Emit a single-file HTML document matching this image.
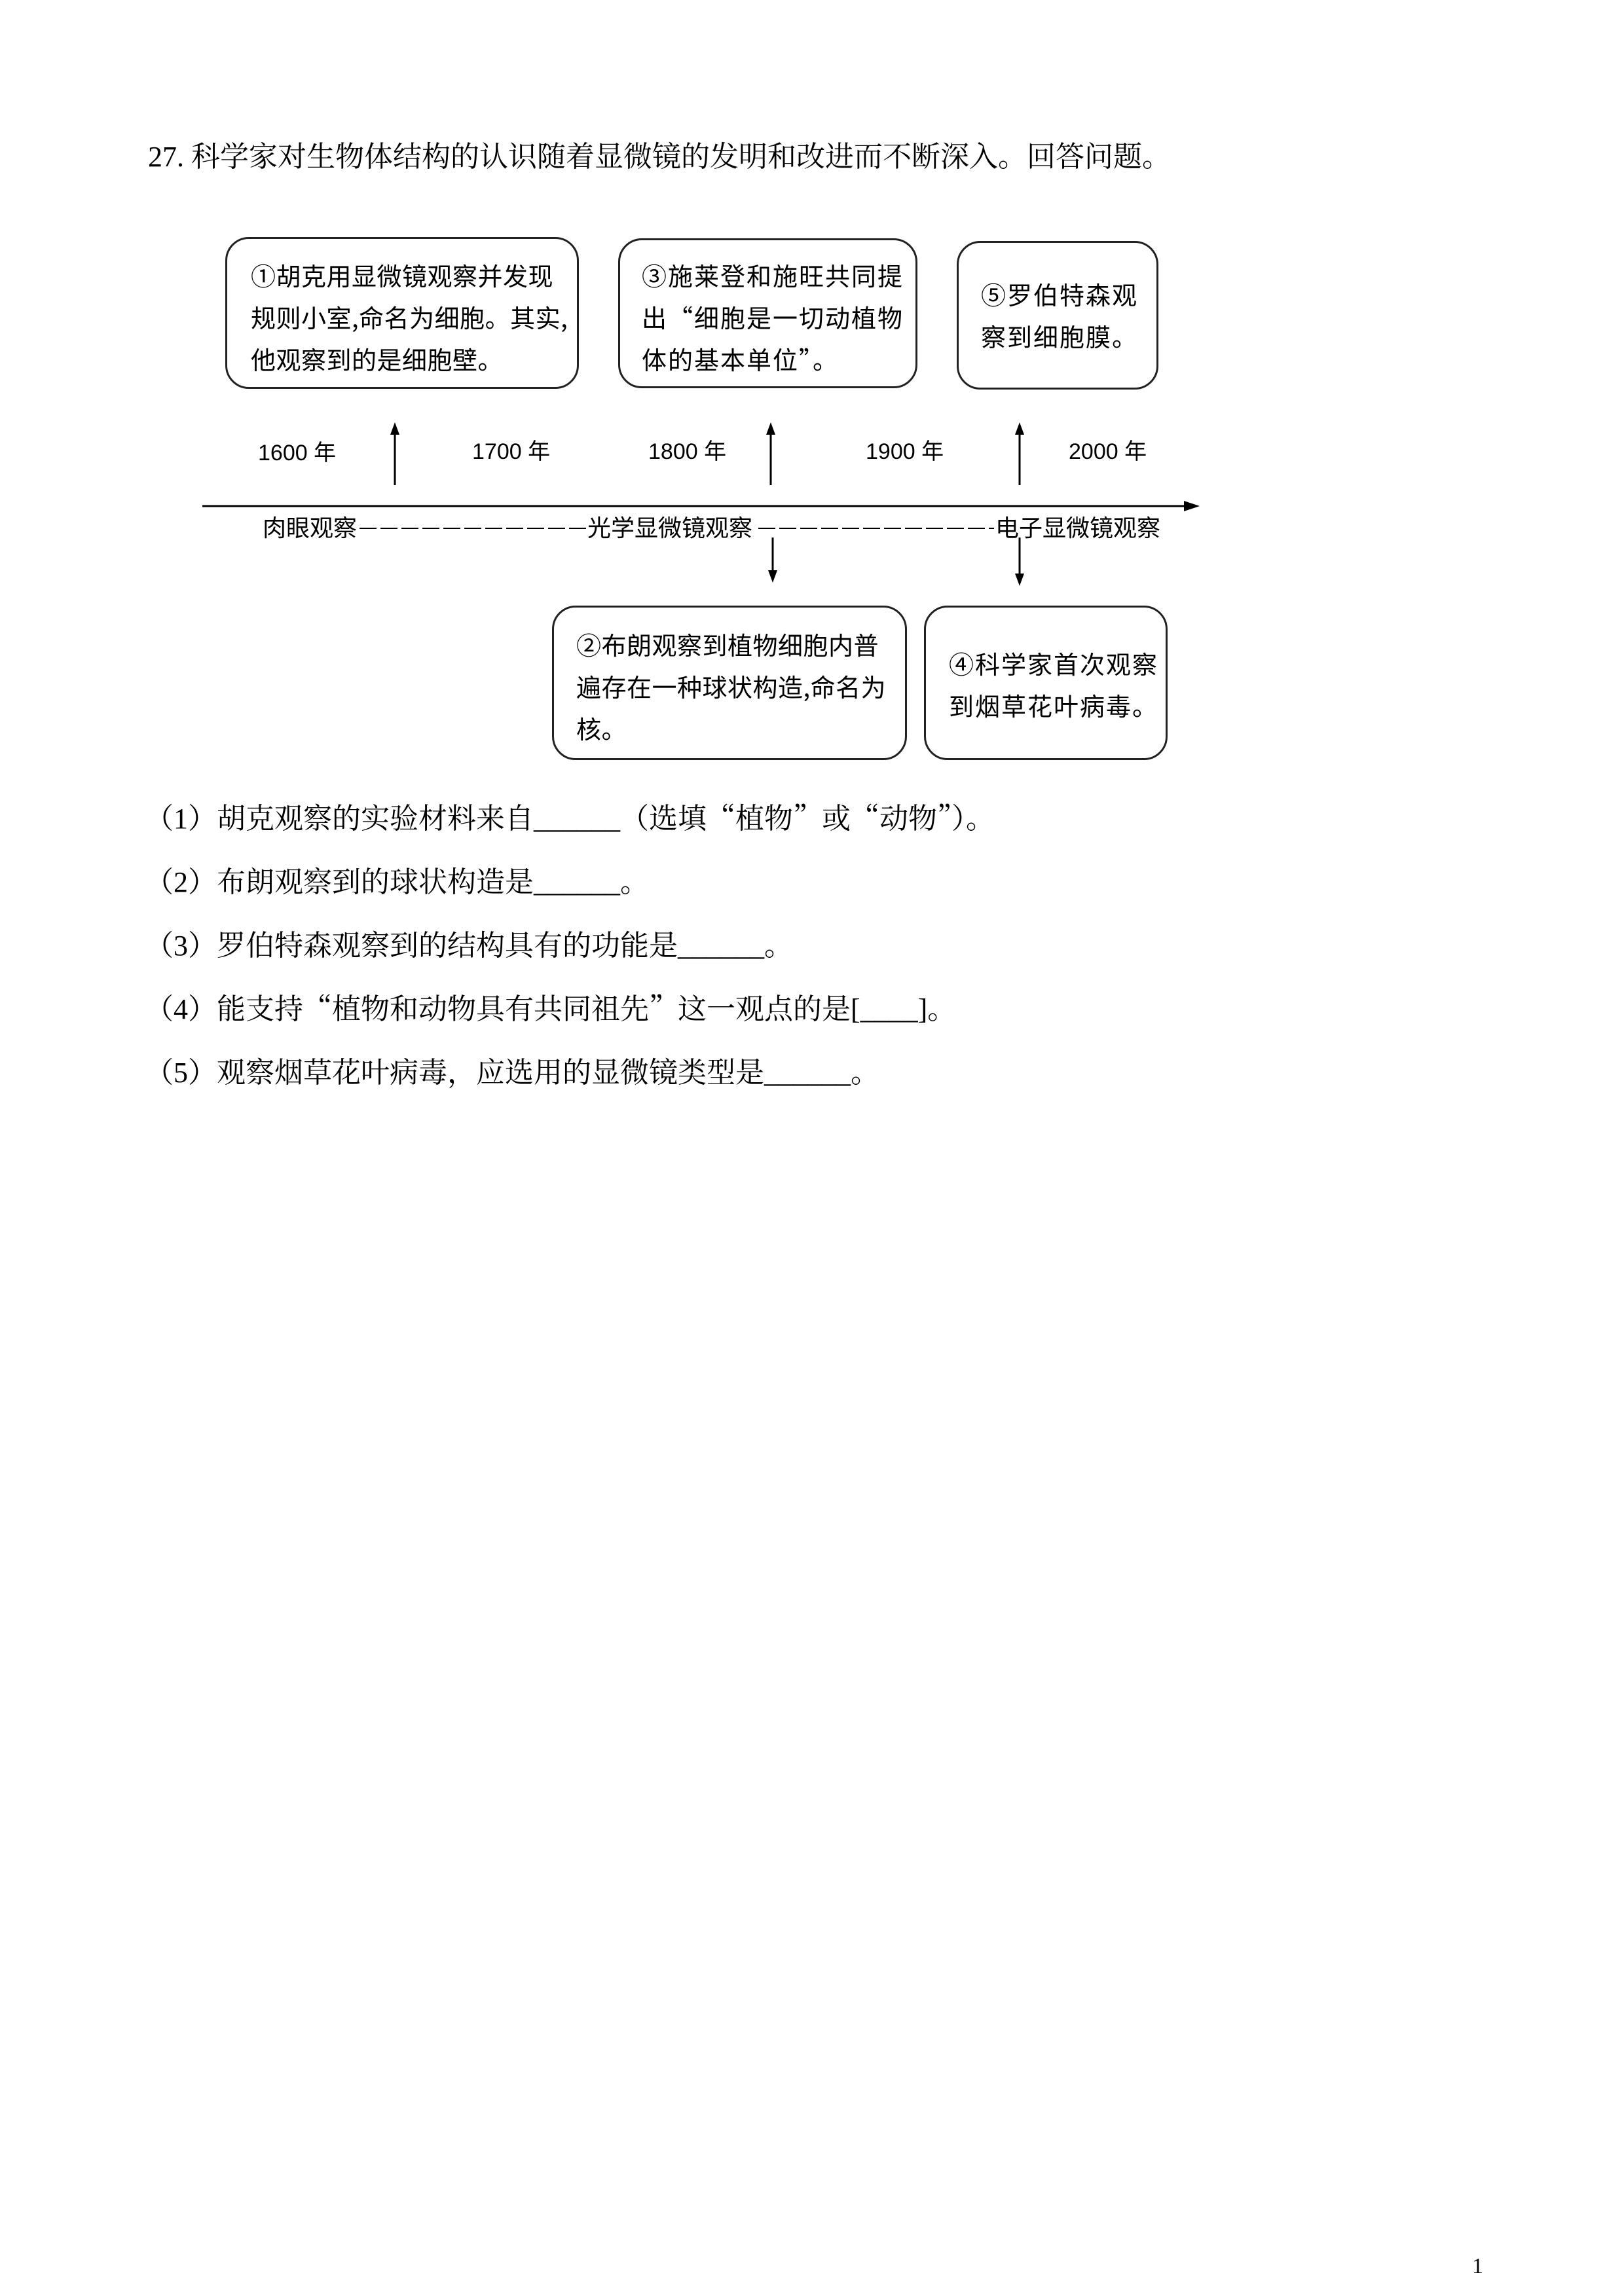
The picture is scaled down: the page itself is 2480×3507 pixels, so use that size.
<!DOCTYPE html>
<html><head><meta charset="utf-8"><style>
html,body{margin:0;padding:0;background:#fff;}
body{width:2480px;height:3507px;position:relative;overflow:hidden;}
.s{position:absolute;font-family:"Liberation Serif","Noto Serif CJK SC",serif;font-size:44px;color:#000;white-space:nowrap;line-height:1;}
.q{font-family:"Noto Serif CJK SC",serif;line-height:0;}
.b{position:absolute;font-family:"Liberation Sans","Noto Sans CJK SC",sans-serif;color:#000;white-space:nowrap;line-height:1;}
.box{position:absolute;border:3px solid #222;border-radius:36px;box-sizing:border-box;}
.bt{position:absolute;font-family:"Noto Sans CJK SC",sans-serif;font-size:38px;letter-spacing:2px;color:#000;white-space:nowrap;line-height:64px;}
.d{position:absolute;height:2px;background:repeating-linear-gradient(90deg,#000 0 26px,transparent 26px 32px);}
</style></head><body>
<div class="s" style="left:226px;top:218px;">27. 科学家对生物体结构的认识随着显微镜的发明和改进而不断深入。回答问题。</div>

<div class="box" style="left:344px;top:362px;width:540px;height:232px;"></div>
<div class="bt" style="left:383px;top:388px;letter-spacing:0.5px;">①胡克用显微镜观察并发现<br>规则小室,命名为细胞。其实,<br>他观察到的是细胞壁。</div>

<div class="box" style="left:944px;top:364px;width:457px;height:229px;"></div>
<div class="bt" style="left:980px;top:388px;">③施莱登和施旺共同提<br>出“细胞是一切动植物<br>体的基本单位”。</div>

<div class="box" style="left:1461px;top:368px;width:308px;height:227px;"></div>
<div class="bt" style="left:1498px;top:417px;">⑤罗伯特森观<br>察到细胞膜。</div>

<div class="box" style="left:843px;top:925px;width:542px;height:236px;"></div>
<div class="bt" style="left:880px;top:952px;letter-spacing:0.5px;">②布朗观察到植物细胞内普<br>遍存在一种球状构造,命名为<br>核。</div>

<div class="box" style="left:1411px;top:925px;width:372px;height:236px;"></div>
<div class="bt" style="left:1449px;top:981px;">④科学家首次观察<br>到烟草花叶病毒。</div>

<svg style="position:absolute;left:0;top:0" width="2480" height="1300">
<g stroke="#000" stroke-width="3" fill="#000">
<line x1="309" y1="773" x2="1815" y2="773"/>
<polygon points="1832,773 1808,765 1808,781" stroke="none"/>
<line x1="603" y1="660" x2="603" y2="741"/><polygon points="603,645 596,664 610,664" stroke="none"/>
<line x1="1177" y1="660" x2="1177" y2="741"/><polygon points="1177,645 1170,664 1184,664" stroke="none"/>
<line x1="1557" y1="660" x2="1557" y2="741"/><polygon points="1557,645 1550,664 1564,664" stroke="none"/>
<line x1="1180" y1="821" x2="1180" y2="875"/><polygon points="1180,890 1173,871 1187,871" stroke="none"/>
<line x1="1557" y1="821" x2="1557" y2="880"/><polygon points="1557,895 1550,876 1564,876" stroke="none"/>
</g></svg>

<div class="b" style="left:394px;top:675px;font-size:34px;">1600 年</div>
<div class="b" style="left:721px;top:673px;font-size:34px;">1700 年</div>
<div class="b" style="left:990px;top:673px;font-size:34px;">1800 年</div>
<div class="b" style="left:1322px;top:673px;font-size:34px;">1900 年</div>
<div class="b" style="left:1632px;top:673px;font-size:34px;">2000 年</div>

<div class="b" style="left:401px;top:786px;font-size:36px;font-family:'Noto Sans CJK SC',sans-serif;">肉眼观察</div>
<div class="d" style="left:549px;top:806px;width:348px;"></div>
<div class="b" style="left:897px;top:786px;font-size:36px;font-family:'Noto Sans CJK SC',sans-serif;">光学显微镜观察</div>
<div class="d" style="left:1158px;top:806px;width:360px;"></div>
<div class="b" style="left:1520px;top:786px;font-size:36px;font-family:'Noto Sans CJK SC',sans-serif;">电子显微镜观察</div>

<div class="s" style="left:221px;top:1229px;">（1）胡克观察的实验材料来自______（选填<span class="q">“</span>植物<span class="q">”</span>或<span class="q">“</span>动物<span class="q">”</span>）。</div>
<div class="s" style="left:221px;top:1326px;">（2）布朗观察到的球状构造是______。</div>
<div class="s" style="left:221px;top:1423px;">（3）罗伯特森观察到的结构具有的功能是______。</div>
<div class="s" style="left:221px;top:1520px;">（4）能支持<span class="q">“</span>植物和动物具有共同祖先<span class="q">”</span>这一观点的是[____]。</div>
<div class="s" style="left:221px;top:1617px;">（5）观察烟草花叶病毒，应选用的显微镜类型是______。</div>

<div class="s" style="left:2248px;top:3445px;font-size:34px;">1</div>
</body></html>
